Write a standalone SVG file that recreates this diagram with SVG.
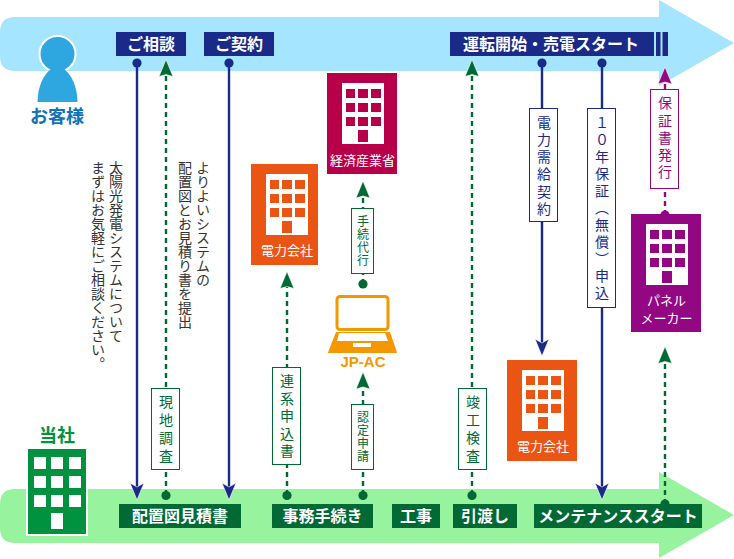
<svg xmlns="http://www.w3.org/2000/svg" width="734" height="559" viewBox="0 0 734 559">
<defs>
<style>
text{font-family:"Noto Sans CJK JP","Liberation Sans",sans-serif}
.lb{font-size:16px;font-weight:700;fill:#fff;text-anchor:middle}
.nn{font-size:13px;fill:#fff;text-anchor:middle}
.v{writing-mode:vertical-rl;font-size:14px;letter-spacing:3.5px}
.vs{writing-mode:vertical-rl;font-size:12px;letter-spacing:1px;fill:#006934}
.note{writing-mode:vertical-rl;font-size:14px;fill:#333}
.solid{stroke:#192a88;stroke-width:2.4;fill:none}
.dash{stroke:#006934;stroke-width:2.4;stroke-dasharray:5 4;fill:none}
.dashp{stroke:#930882;stroke-width:2.4;stroke-dasharray:5 4;fill:none}
.box{fill:#fff;stroke-width:1}
.halo{stroke:#fff;stroke-width:1;stroke-opacity:.6}
</style>
<path id="ad" class="halo" d="M0 0L-7 -17L0 -13L7 -17Z" fill="#192a88"/>
<path id="ag" class="halo" d="M0 0L-7 17L0 15L7 17Z" fill="#006934"/>
<path id="ap" class="halo" d="M0 0L-7 17L0 15L7 17Z" fill="#930882"/>
</defs>
<g id="band-top"><path d="M15 17H659V0L734 43L659 86V71H15Q0 71 0 56V32Q0 17 15 17Z" fill="#a5e5ff"/></g>
<g id="band-bottom"><path d="M15 489H659V472L734 515L659 558V543H15Q0 543 0 528V504Q0 489 15 489Z" fill="#98f39e"/></g>

<g id="connectors">
<line class="solid" x1="137" y1="63" x2="137" y2="490"/>
<circle cx="137" cy="63" r="4.6" fill="#192a88"/>
<use href="#ad" x="137" y="500"/>
<line class="solid" x1="229" y1="63" x2="229" y2="490"/>
<circle cx="229" cy="63" r="4.6" fill="#192a88"/>
<use href="#ad" x="229" y="500"/>
<line class="dash" x1="166" y1="495" x2="166" y2="74"/>
<circle cx="166" cy="495.500" r="4.6" fill="#006934"/>
<use href="#ag" x="166" y="59.500"/>
<line class="dash" x1="287" y1="495" x2="287" y2="285"/>
<circle cx="287" cy="495.500" r="4.6" fill="#006934"/>
<use href="#ag" x="287" y="271.500"/>
<line class="dash" x1="363" y1="495" x2="363" y2="385"/>
<circle cx="363" cy="495.500" r="4.6" fill="#006934"/>
<use href="#ag" x="363" y="372"/>
<line class="dash" x1="363" y1="284" x2="363" y2="194"/>
<circle cx="363" cy="284" r="4.6" fill="#006934"/>
<use href="#ag" x="363" y="181"/>
<line class="dash" x1="472" y1="495" x2="472" y2="74"/>
<circle cx="472" cy="495.500" r="4.6" fill="#006934"/>
<use href="#ag" x="472" y="59.500"/>
<line class="solid" x1="542" y1="63" x2="542" y2="346"/>
<circle cx="542" cy="63" r="4.6" fill="#192a88"/>
<use href="#ad" x="542" y="356"/>
<line class="solid" x1="602" y1="63" x2="602" y2="490"/>
<circle cx="602" cy="63" r="4.6" fill="#192a88"/>
<use href="#ad" x="602" y="500"/>
<line class="dashp" x1="665" y1="215" x2="665" y2="82"/>
<circle cx="665" cy="215" r="4.6" fill="#930882"/>
<use href="#ap" x="665" y="67"/>
<line class="dash" x1="665" y1="504" x2="665" y2="362"/>
<circle cx="665" cy="504" r="4.6" fill="#006934"/>
<use href="#ag" x="665" y="346.500"/>
</g>

<g id="node-customer">
<circle cx="57.500" cy="54" r="18" fill="#2ea7e0" stroke="#fff" stroke-width="2"/>
<path d="M37.500 102Q38 79 52 68H63Q77 79 77.500 102Z" fill="#2ea7e0"/>
<text x="57" y="123" font-size="18" font-weight="700" fill="#0f72ba" text-anchor="middle">お客様</text>
</g>
<g id="node-soudan"><rect x="116" y="32" width="70" height="24" fill="#192a88"/><text class="lb" x="151" y="49.500">ご相談</text></g>
<g id="node-keiyaku"><rect x="204" y="32" width="70" height="24" fill="#192a88"/><text class="lb" x="239" y="49.500">ご契約</text></g>
<g id="node-start">
<rect x="450" y="32" width="204" height="24" fill="#192a88"/><rect x="656" y="32" width="4.500" height="24" fill="#192a88"/><rect x="662.500" y="32" width="5.500" height="24" fill="#192a88"/>
<text class="lb" x="551" y="49.500">運転開始・売電スタート</text>
</g>

<g id="node-meti">
<rect x="327" y="73" width="70" height="101" fill="#b70049"/>
<rect x="342" y="83" width="42" height="61" fill="#fff"/>
<g fill="#b70049"><rect x="346" y="89" width="9" height="9"/><rect x="358" y="89" width="10" height="9"/><rect x="371" y="89" width="10" height="9"/><rect x="346" y="103" width="9" height="9"/><rect x="358" y="103" width="10" height="9"/><rect x="371" y="103" width="10" height="9"/><rect x="346" y="117" width="9" height="9"/><rect x="358" y="117" width="10" height="9"/><rect x="371" y="117" width="10" height="9"/><rect x="358" y="130" width="10" height="12"/></g>
<text class="nn" x="362.500" y="165">経済産業省</text>
</g>
<g id="node-power1">
<rect x="251" y="164" width="67" height="101" fill="#ea5514"/>
<rect x="266" y="174" width="42" height="61" fill="#fff"/>
<g fill="#ea5514"><rect x="270" y="180" width="9" height="9"/><rect x="282" y="180" width="10" height="9"/><rect x="295" y="180" width="10" height="9"/><rect x="270" y="194" width="9" height="9"/><rect x="282" y="194" width="10" height="9"/><rect x="295" y="194" width="10" height="9"/><rect x="270" y="208" width="9" height="9"/><rect x="282" y="208" width="10" height="9"/><rect x="295" y="208" width="10" height="9"/><rect x="282" y="221" width="10" height="12"/></g>
<text class="nn" x="287" y="255">電力会社</text>
</g>
<g id="node-power2">
<rect x="507" y="360" width="70" height="101" fill="#ea5514"/>
<rect x="522" y="370" width="42" height="61" fill="#fff"/>
<g fill="#ea5514"><rect x="526" y="376" width="9" height="9"/><rect x="538" y="376" width="10" height="9"/><rect x="551" y="376" width="10" height="9"/><rect x="526" y="390" width="9" height="9"/><rect x="538" y="390" width="10" height="9"/><rect x="551" y="390" width="10" height="9"/><rect x="526" y="404" width="9" height="9"/><rect x="538" y="404" width="10" height="9"/><rect x="551" y="404" width="10" height="9"/><rect x="538" y="417" width="10" height="12"/></g>
<text class="nn" x="543" y="451">電力会社</text>
</g>
<g id="node-panel">
<rect x="631" y="214" width="70" height="118" fill="#930882"/>
<rect x="646" y="224" width="42" height="61" fill="#fff"/>
<g fill="#930882"><rect x="650" y="230" width="9" height="9"/><rect x="662" y="230" width="10" height="9"/><rect x="675" y="230" width="10" height="9"/><rect x="650" y="244" width="9" height="9"/><rect x="662" y="244" width="10" height="9"/><rect x="675" y="244" width="10" height="9"/><rect x="650" y="258" width="9" height="9"/><rect x="662" y="258" width="10" height="9"/><rect x="675" y="258" width="10" height="9"/><rect x="662" y="271" width="10" height="12"/></g>
<text class="nn"><tspan x="666.500" y="305">パネル</tspan><tspan x="666.500" y="322.500">メーカー</tspan></text>
</g>
<g id="node-jpac">
<rect x="337" y="296.500" width="51" height="33" rx="3" fill="#fff" stroke="#f39800" stroke-width="3"/>
<path d="M336 332H390L397 352.500Q397 353 396 353H329Q328 353 328 352.500ZM339 333L337 341H388L385 333ZM353 343V347H371V343Z" fill="#f39800" fill-rule="evenodd"/>
<text x="363" y="367" font-size="15" font-weight="700" fill="#f39800" text-anchor="middle" style="font-family:'Liberation Sans',sans-serif">JP-AC</text>
</g>
<g id="node-tousha">
<text x="57" y="442" font-size="18" font-weight="700" fill="#00923f" text-anchor="middle">当社</text>
<rect x="27" y="448" width="60" height="87" fill="#00923f" stroke="#fff" stroke-width="2"/>
<g fill="#fff"><rect x="34" y="457" width="12" height="12"/><rect x="51" y="457" width="12" height="12"/><rect x="69" y="457" width="12" height="12"/><rect x="34" y="476" width="12" height="12"/><rect x="51" y="476" width="12" height="12"/><rect x="69" y="476" width="12" height="12"/><rect x="34" y="495" width="12" height="12"/><rect x="51" y="495" width="12" height="12"/><rect x="69" y="495" width="12" height="12"/><rect x="51" y="513" width="12" height="16"/></g>
</g>
<g id="node-haichi"><rect x="119" y="504" width="122" height="24" fill="#006934"/><text class="lb" x="180" y="521.500">配置図見積書</text></g>
<g id="node-jimu"><rect x="272" y="504" width="101" height="24" fill="#006934"/><text class="lb" x="322.500" y="521.500">事務手続き</text></g>
<g id="node-kouji"><rect x="392" y="504" width="48" height="24" fill="#006934"/><text class="lb" x="416" y="521.500">工事</text></g>
<g id="node-hikiwatashi"><rect x="453" y="504" width="64" height="24" fill="#006934"/><text class="lb" x="485" y="521.500">引渡し</text></g>
<g id="node-maint"><rect x="534" y="504" width="168" height="24" fill="#006934"/><text class="lb" x="618" y="521.500">メンテナンススタート</text></g>

<g id="node-note1"><text class="note" x="116" y="161">太陽光発電システムについて</text><text class="note" x="98" y="161">まずはお気軽にご相談ください。</text></g>
<g id="node-note2"><text class="note" x="203" y="161">よりよいシステムの</text><text class="note" x="185" y="161">配置図とお見積り書を提出</text></g>

<g id="label-genchi"><rect class="box" x="151.500" y="388.500" width="28" height="81" stroke="#006934"/><text class="v" x="166" y="395" fill="#006934" style="letter-spacing:3.800px">現地調査</text></g>
<g id="label-renkei"><rect class="box" x="272.500" y="367.500" width="28" height="97" stroke="#006934"/><text class="v" x="287" y="374" fill="#006934">連系申込書</text></g>
<g id="label-nintei"><rect class="box" x="351.500" y="404.500" width="22" height="65" stroke="#006934"/><text class="vs" x="363" y="411">認定申請</text></g>
<g id="label-tetsuzuki"><rect class="box" x="351.500" y="208.500" width="22" height="65" stroke="#006934"/><text class="vs" x="363" y="215">手続代行</text></g>
<g id="label-shunko"><rect class="box" x="458.500" y="388.500" width="28" height="81" stroke="#006934"/><text class="v" x="473" y="395" fill="#006934" style="letter-spacing:3.800px">竣工検査</text></g>
<g id="label-juyo"><rect class="box" x="529.500" y="108.500" width="28" height="113" stroke="#192a88"/><text class="v" x="544" y="115.500" fill="#192a88" style="letter-spacing:3.200px">電力需給契約</text></g>
<g id="label-hosho"><rect class="box" x="587.500" y="108.500" width="28" height="199" stroke="#192a88"/><text class="v" x="602" y="115.500" fill="#192a88" style="letter-spacing:3px">１０年保証（無償）申込</text></g>
<g id="label-hakko"><rect class="box" x="650.500" y="89.500" width="28" height="99" stroke="#930882"/><text class="v" x="665" y="96" fill="#930882" style="letter-spacing:3.200px">保証書発行</text></g>
</svg>
